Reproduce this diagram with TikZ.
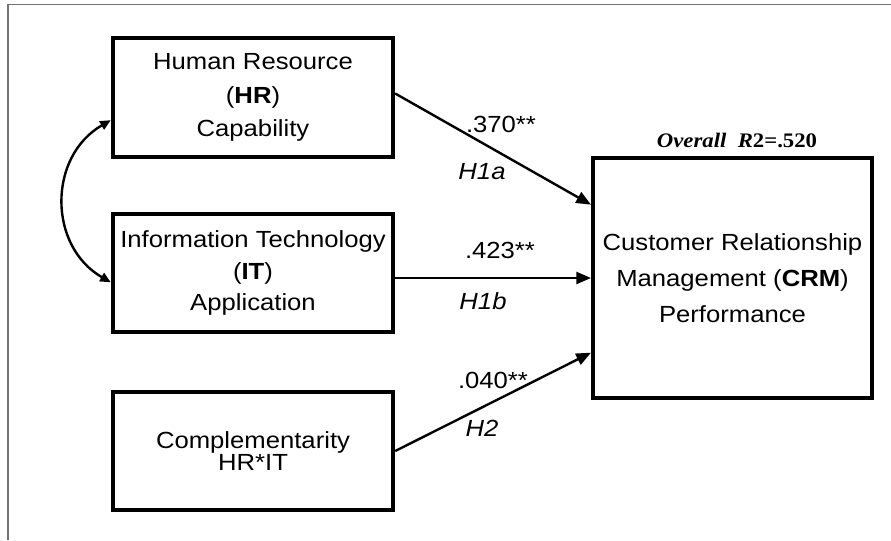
\documentclass[tikz,border=0pt]{standalone}
\usepackage{fontspec}
\setmainfont{Liberation Sans}[FakeStretch=1.1]
\newfontfamily\timesfont{Liberation Serif}[FakeStretch=1.1]
\usetikzlibrary{arrows.meta}

\begin{document}
\begin{tikzpicture}[x=0.75pt, y=-0.75pt,
    box/.style={draw, line width=3.3pt, minimum width=210pt, minimum height=88.5pt,
      inner sep=0pt, align=center},
    link/.style={line width=1.8pt, -{Triangle[length=11pt, width=9pt]}},
    lbl/.style={anchor=base, inner sep=0pt, font=\fontsize{17.5}{20}\selectfont}]
  \useasboundingbox (0,0) rectangle (891,540);

  % page frame (top and left edges only)
  \draw[black!55, line width=1.1pt] (8,540) -- (8,4.5) -- (891,4.5);

  % constructs
  \node[box, minimum height=89.25pt, font=\fontsize{17.5}{25}\selectfont] (hr) at (253,97.5)
    {Human Resource\\(\textbf{HR})\\Capability};
  \node[box, font=\fontsize{17.5}{23.6}\selectfont] (it) at (253,273)
    {Information Technology\\(\textbf{IT})\\Application};
  \node[box, font=\fontsize{17.5}{15.5}\selectfont] (comp) at (253,451)
    {Complementarity\\HR*IT};
  \node[box, minimum width=209pt, minimum height=180pt, font=\fontsize{17.5}{27}\selectfont] (crm) at (732.5,278)
    {Customer Relationship\\Management (\textbf{CRM})\\Performance};

  % paths
  \draw[link] ([yshift=3pt]hr.east) -- ([yshift=55pt]crm.west);
  \draw[link] (it.east |- crm.west) -- (crm.west);
  \draw[link] (comp.east) -- ([yshift=-56pt]crm.west);

  % correlation between HR and IT
  \draw[line width=1.8pt, {Triangle[length=8pt, width=7pt]}-{Triangle[length=8pt, width=7pt]}]
    ([yshift=-17pt]hr.west) to[out=210, in=150, looseness=1.15] ([yshift=-7pt]it.west);

  % coefficients and hypotheses
  \node[lbl] (b1) at (501,132) {.370**};
  \node[lbl] (h1a) at (482,179) {\textit{H1a}};
  \node[lbl] (b2) at (500,258) {.423**};
  \node[lbl] (h1b) at (483,309) {\textit{H1b}};
  \node[lbl] (b3) at (493,388) {.040**};
  \node[lbl] (h2) at (482,436) {\textit{H2}};

  \node[anchor=base, inner sep=0pt, font=\timesfont\fontsize{15.5}{18}\selectfont] (rsq) at (737,147)
    {\textbf{\textit{Overall\ \ R}2=.520}};
\end{tikzpicture}
\end{document}
